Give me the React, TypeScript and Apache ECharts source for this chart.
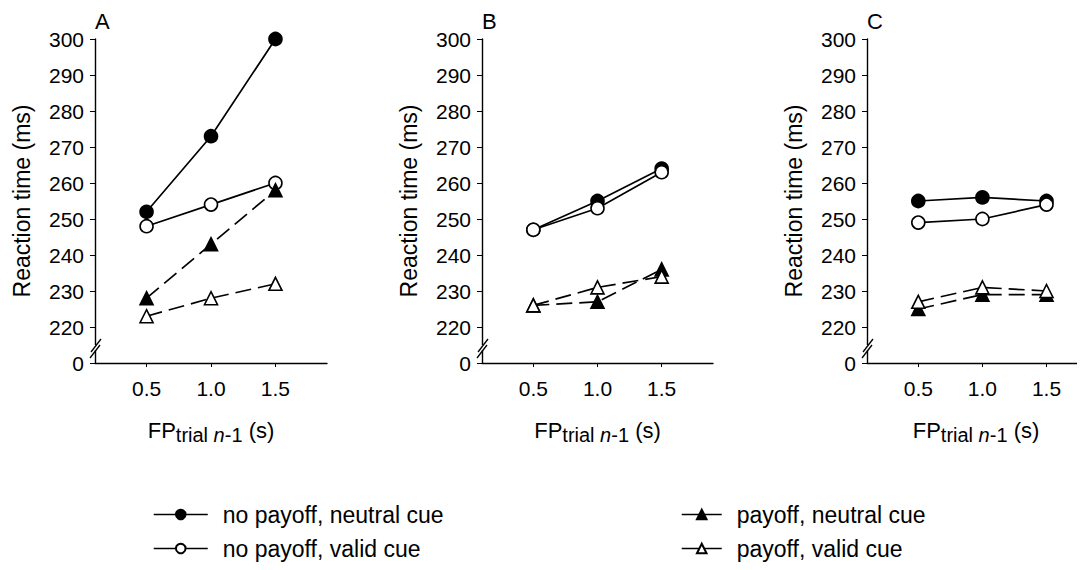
import React, { useEffect, useRef } from 'react';
import * as echarts from 'echarts';

const xValues = [0.5, 1.0, 1.5];
const xTickValues = [0.5, 1.0, 1.5];
const panelLabels = ['A', 'B', 'C'];
const seriesNames = [
  'no payoff, neutral cue',
  'no payoff, valid cue',
  'payoff, neutral cue',
  'payoff, valid cue',
];
// each array: panel A, B, C
const noPayoffNeutral = [[252, 273, 300], [247, 255, 264], [255, 256, 255]];
const noPayoffValid = [[248, 254, 260], [247, 253, 263], [249, 250, 254]];
const payoffNeutral = [[228, 243, 258], [226, 227, 236], [225, 229, 229]];
const payoffValid = [[223, 228, 232], [226, 231, 234], [227, 231, 230]];

const FONT = '"Liberation Sans", Arial, Helvetica, sans-serif';

export default function App() {
  const ref = useRef<HTMLDivElement>(null);
  useEffect(() => {
    if (!ref.current) return;
    const chart = echarts.init(ref.current, undefined, { renderer: 'svg' });
    const lefts = [95, 482, 867];
    const widths = [232, 231, 218];
    const xMax = [1.9, 1.9, 1.8];
    const top = 39;
    const height = 324;

    const grids = lefts.map((l, i) => ({ left: l, top, width: widths[i], height }));
    const xAxes = lefts.map((_, i) => ({
      type: 'value',
      gridIndex: i,
      min: 0.1,
      max: xMax[i],
      splitLine: { show: false },
      axisLine: { show: true, lineStyle: { color: '#000', width: 1.4 } },
      axisTick: { show: true, length: 4, lineStyle: { color: '#000' }, customValues: xTickValues },
      axisLabel: {
        color: '#000', fontSize: 21, fontFamily: FONT, margin: 15,
        customValues: xTickValues,
        formatter: (v: number) => v.toFixed(1),
      },
      name: '{a|FP}{b|trial }{c|n}{b|-1}{a| (s)}',
      nameLocation: 'middle',
      nameGap: 61,
      nameTextStyle: {
        rich: {
          a: { fontSize: 22, lineHeight: 22, fontFamily: FONT, color: '#000', verticalAlign: 'middle', padding: [0, 0, 10, 0] },
          b: { fontSize: 20, lineHeight: 20, fontFamily: FONT, color: '#000', verticalAlign: 'middle' },
          c: { fontSize: 20, lineHeight: 20, fontFamily: FONT, color: '#000', fontStyle: 'italic', verticalAlign: 'middle' },
        },
      },
    }));
    const yAxes = lefts.map((_, i) => ({
      type: 'value',
      gridIndex: i,
      min: 210,
      max: 300,
      interval: 10,
      splitLine: { show: false },
      axisLine: { show: true, lineStyle: { color: '#000', width: 1.4 } },
      axisTick: { show: true, length: 5, lineStyle: { color: '#000' } },
      axisLabel: {
        color: '#000', fontSize: 21, fontFamily: FONT, margin: 11,
        formatter: (v: number) => (v === 210 ? '0' : String(v)),
      },
      name: 'Reaction time (ms)',
      nameLocation: 'middle',
      nameGap: 62,
      nameTextStyle: { color: '#000', fontSize: 23, fontFamily: FONT },
    }));

    const groups = [noPayoffNeutral, noPayoffValid, payoffNeutral, payoffValid];
    const series: any[] = [];
    for (let p = 0; p < 3; p++) {
      groups.forEach((g, k) => {
        const filled = k === 0 || k === 2;
        const dashed = k >= 2;
        series.push({
          type: 'line',
          name: seriesNames[k],
          xAxisIndex: p,
          yAxisIndex: p,
          data: xValues.map((x, i) => [x, g[p][i]]),
          symbol: k < 2 ? 'circle' : 'triangle',
          symbolSize: k < 2 ? 13 : 13,
          showSymbol: true,
          lineStyle: { color: '#000', width: 1.7, type: dashed ? [16, 7] : 'solid' },
          itemStyle: { color: filled ? '#000' : '#fff', borderColor: '#000', borderWidth: 1.6 },
          z: 2 + k,
        });
      });
    }

    const graphics: any[] = [];
    lefts.forEach((L, i) => {
      graphics.push({
        type: 'text', left: L, top: 10, z: 100,
        style: { text: panelLabels[i], fontSize: 22, fontFamily: FONT, fill: '#000' },
      });
      graphics.push({ type: 'rect', z: 100, shape: { x: L - 3, y: 345, width: 6, height: 5 }, style: { fill: '#fff' } });
      graphics.push({ type: 'line', z: 101, shape: { x1: L - 4, y1: 352, x2: L + 6, y2: 339 }, style: { stroke: '#000', lineWidth: 1.3 } });
      graphics.push({ type: 'line', z: 101, shape: { x1: L - 5, y1: 358, x2: L + 5, y2: 345 }, style: { stroke: '#000', lineWidth: 1.3 } });
    });

    const legendLefts = [148, 148, 676, 676];
    const legendTops = [498, 532, 498, 532];
    const legendWidths = [54, 54, 40, 40];
    const legends = seriesNames.map((name, k) => ({
      left: legendLefts[k],
      top: legendTops[k],
      itemWidth: legendWidths[k],
      itemHeight: 12,
      data: [name],
      textStyle: { color: '#000', fontSize: 23, fontFamily: FONT, padding: [0, 0, 0, 10] },
      lineStyle: { type: 'solid', width: 1.5 },
      selectedMode: false,
    }));

    chart.setOption({
      animation: false,
      backgroundColor: '#fff',
      grid: grids,
      xAxis: xAxes,
      yAxis: yAxes,
      series,
      graphic: graphics,
      legend: legends,
    });
    return () => chart.dispose();
  }, []);
  return <div ref={ref} style={{ width: 1085, height: 570, margin: -8 }} />;
}
